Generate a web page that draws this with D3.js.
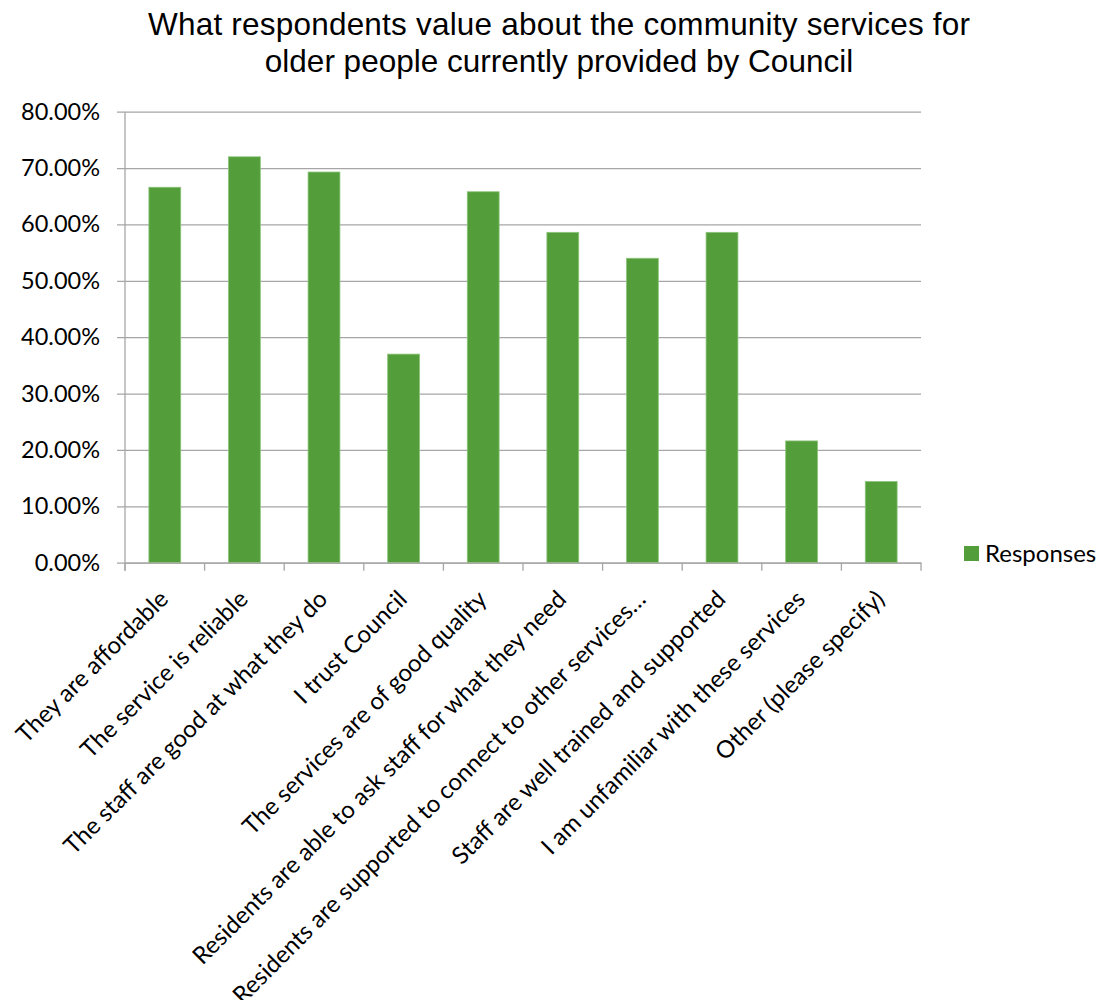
<!DOCTYPE html>
<html>
<head>
<meta charset="utf-8">
<script src="https://cdn.jsdelivr.net/npm/d3@7"></script>
<style>
  html, body { margin: 0; padding: 0; background: #fff; }
  svg { display: block; }
</style>
</head>
<body>
<svg id="chart" width="1101" height="1000"></svg>
<script>
// Survey categories and share of respondents selecting each
const categories = [
  "They are affordable",
  "The service is reliable",
  "The staff are good at what they do",
  "I trust Council",
  "The services are of good quality",
  "Residents are able to ask staff for what they need",
  "Residents are supported to connect to other services…",
  "Staff are well trained and supported",
  "I am unfamiliar with these services",
  "Other (please specify)"
];
const responses = [66.6, 72.0, 69.3, 37.0, 65.8, 58.6, 54.0, 58.6, 21.6, 14.4];
const yTicks = [0, 10, 20, 30, 40, 50, 60, 70, 80];
const titleLines = [
  "What respondents value about the community services for",
  "older people currently provided by Council"
];
const seriesName = "Responses";

const svg = d3.select("#chart");
const labelFont = "Lato, 'Open Sans', 'Noto Sans', sans-serif";
const barColor = "#539E3A";
const gridColor = "#A6A6A6";

const plot = { left: 125, right: 921, top: 111.7, bottom: 562.7 };

const x = d3.scaleBand()
  .domain(categories)
  .range([plot.left, plot.right])
  .paddingInner(0.6)
  .paddingOuter(0.3);

const y = d3.scaleLinear()
  .domain([0, 80])
  .range([plot.bottom, plot.top]);

// Title
svg.append("g")
  .selectAll("text")
  .data(titleLines)
  .join("text")
  .attr("x", 559)
  .attr("y", (d, i) => 35 + i * 36.5)
  .attr("text-anchor", "middle")
  .attr("font-family", "'Liberation Sans', Arial, sans-serif")
  .attr("font-size", 31.5)
  .attr("textLength", (d, i) => i === 0 ? 822 : null)
  .attr("fill", "#000")
  .text(d => d);

// Horizontal gridlines with outward ticks
const yAxis = d3.axisLeft(y)
  .tickValues(yTicks)
  .tickSize(-(plot.right - plot.left))
  .tickSizeOuter(0)
  .tickPadding(0)
  .tickFormat(d => d3.format(".2f")(d) + "%");

const gy = svg.append("g")
  .attr("transform", `translate(${plot.left},0)`)
  .call(yAxis);
gy.select(".domain").remove();
gy.selectAll(".tick line")
  .attr("x1", -8)
  .attr("stroke", gridColor)
  .attr("stroke-width", 1.3);
gy.selectAll(".tick text")
  .attr("x", -25)
  .attr("font-family", labelFont)
  .attr("font-size", 23.5)
  .attr("fill", "#000");

// Bars
svg.append("g")
  .selectAll("rect")
  .data(responses)
  .join("rect")
  .attr("x", (d, i) => x(categories[i]))
  .attr("y", d => y(d))
  .attr("width", x.bandwidth())
  .attr("height", d => y(0) - y(d))
  .attr("fill", barColor)
  .attr("stroke", "#8CC47A")
  .attr("stroke-width", 0.8);

// Vertical axis line
svg.append("line")
  .attr("x1", plot.left).attr("x2", plot.left)
  .attr("y1", plot.top).attr("y2", plot.bottom + 8)
  .attr("stroke", gridColor)
  .attr("stroke-width", 1.3);

// Category axis with boundary ticks
const xAxis = d3.axisBottom(x).tickSize(0).tickSizeOuter(0);
const gx = svg.append("g")
  .attr("transform", `translate(0,${plot.bottom})`)
  .call(xAxis);
gx.select(".domain")
  .attr("stroke", gridColor)
  .attr("stroke-width", 1.3);
gx.selectAll(".tick text")
  .attr("font-family", labelFont)
  .attr("font-size", 24)
  .attr("fill", "#000")
  .attr("text-anchor", "end")
  .attr("transform", "translate(-1,32) rotate(-45)")
  .attr("dy", "0.35em")
  .attr("y", 0);

const step = x.step();
svg.append("g")
  .selectAll("line")
  .data(d3.range(categories.length + 1))
  .join("line")
  .attr("x1", i => plot.left + i * step)
  .attr("x2", i => plot.left + i * step)
  .attr("y1", plot.bottom)
  .attr("y2", plot.bottom + 8)
  .attr("stroke", gridColor)
  .attr("stroke-width", 1.3);

// Legend
const legend = svg.append("g").attr("transform", "translate(964,546)");
legend.append("rect")
  .attr("width", 15).attr("height", 15)
  .attr("fill", barColor);
legend.append("text")
  .attr("x", 21)
  .attr("y", 15.5)
  .attr("font-family", labelFont)
  .attr("font-size", 24)
  .attr("fill", "#000")
  .text(seriesName);
</script>
</body>
</html>
